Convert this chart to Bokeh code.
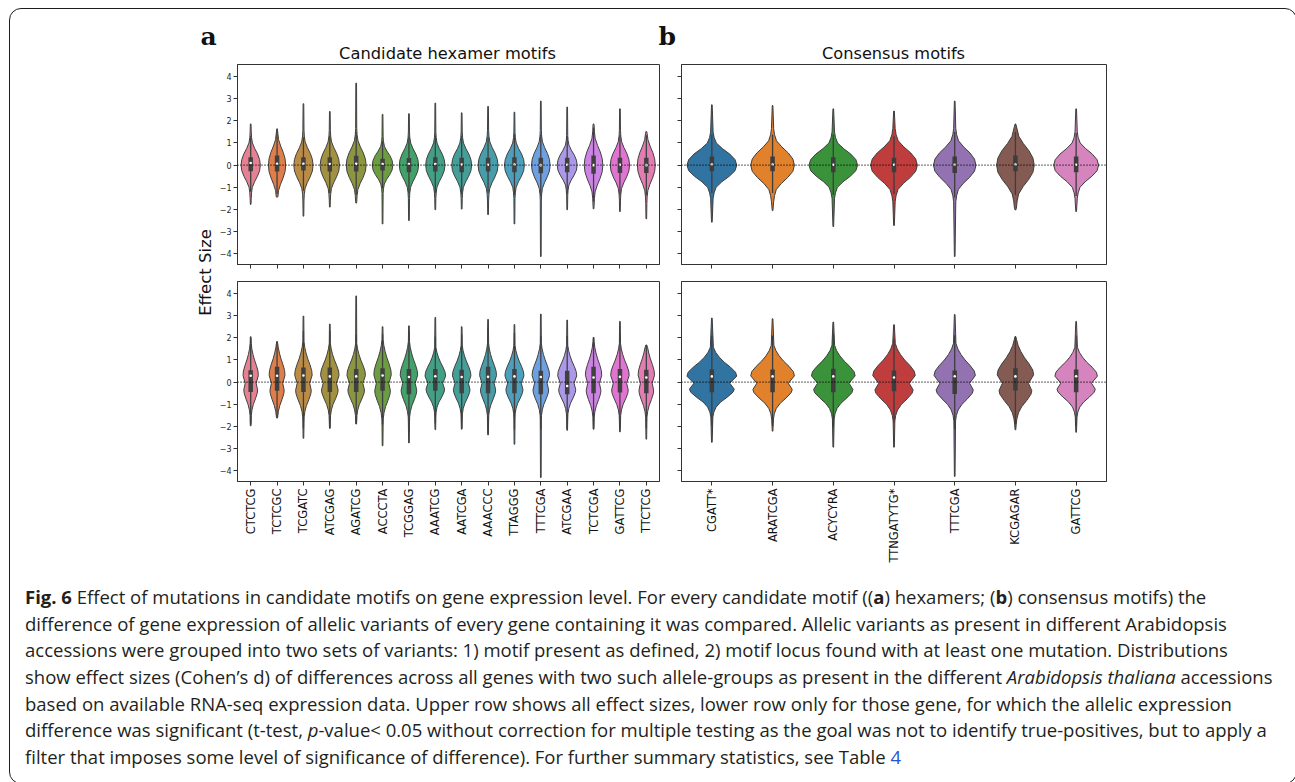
import math
import colorsys

from bokeh.embed import file_html
from bokeh.layouts import column, row
from bokeh.models import Div, FixedTicker, Label, Range1d, Span
from bokeh.plotting import figure
from bokeh.resources import INLINE

# ---------------------------------------------------------------- data
hexamers = ["CTCTCG", "TCTCGC", "TCGATC", "ATCGAG", "AGATCG", "ACCCTA", "TCGGAG", "AAATCG",
            "AATCGA", "AAACCC", "TTAGGG", "TTTCGA", "ATCGAA", "TCTCGA", "GATTCG", "TTCTCG"]
consensus = ["CGATT*", "ARATCGA", "ACYCYRA", "TTNGATYTG*", "TTTCGA", "KCGAGAR", "GATTCG"]

y_ticks = [-4, -3, -2, -1, 0, 1, 2, 3, 4]

# hexamers, all effect sizes
hex_all_max = [1.86, 1.64, 2.77, 2.42, 3.70, 2.29, 2.32, 2.80, 2.36, 2.65, 2.39, 2.89, 2.62, 1.86, 2.54, 1.52]
hex_all_min = [-1.77, -1.44, -2.30, -1.89, -1.71, -2.65, -2.50, -2.01, -1.98, -2.23, -2.65, -4.12, -2.01, -1.97, -2.09, -2.42]
hex_all_q1 = [-0.27, -0.29, -0.24, -0.29, -0.29, -0.24, -0.32, -0.29, -0.32, -0.29, -0.32, -0.36, -0.32, -0.39, -0.35, -0.35]
hex_all_med = [0.10, 0.06, 0.06, 0.05, 0.06, 0.05, 0.05, 0.05, 0.03, 0.02, 0.03, 0.00, 0.02, 0.00, 0.02, 0.00]
hex_all_q3 = [0.36, 0.44, 0.36, 0.36, 0.42, 0.29, 0.32, 0.36, 0.33, 0.33, 0.36, 0.33, 0.33, 0.44, 0.33, 0.33]
hex_all_wlo = [-1.20, -1.30, -1.15, -1.25, -1.35, -1.05, -1.27, -1.25, -1.29, -1.23, -1.34, -1.39, -1.29, -1.64, -1.37, -1.37]
hex_all_whi = [1.30, 1.54, 1.26, 1.33, 1.48, 1.09, 1.28, 1.33, 1.30, 1.26, 1.38, 1.37, 1.30, 1.69, 1.35, 1.35]
hex_all_width = [0.365, 0.327, 0.365, 0.365, 0.377, 0.39, 0.365, 0.365, 0.377, 0.377, 0.377, 0.352, 0.377, 0.352, 0.365, 0.34]
hex_all_spread = [1.0, 1.15, 1.05, 1.05, 1.1, 0.85, 1.0, 1.0, 1.0, 1.05, 1.0, 1.05, 0.9, 1.2, 1.05, 1.15]

# hexamers, significant differences only
hex_sig_max = [2.05, 1.83, 2.98, 2.62, 3.89, 2.50, 2.54, 2.92, 2.50, 2.83, 2.60, 3.07, 2.80, 2.02, 2.74, 1.68]
hex_sig_min = [-1.97, -1.62, -2.53, -2.08, -1.89, -2.87, -2.74, -2.14, -2.12, -2.38, -2.80, -4.30, -2.17, -2.12, -2.24, -2.57]
hex_sig_q1 = [-0.44, -0.39, -0.44, -0.44, -0.44, -0.39, -0.54, -0.39, -0.50, -0.50, -0.50, -0.54, -0.54, -0.50, -0.47, -0.50]
hex_sig_med = [0.29, 0.29, 0.30, 0.26, 0.26, 0.30, 0.23, 0.27, 0.23, 0.24, 0.26, 0.23, -0.17, 0.21, 0.24, 0.21]
hex_sig_q3 = [0.54, 0.69, 0.66, 0.66, 0.59, 0.63, 0.59, 0.59, 0.56, 0.69, 0.59, 0.51, 0.51, 0.69, 0.59, 0.56]
hex_sig_wlo = [-1.91, -1.62, -2.09, -2.08, -1.89, -1.92, -2.24, -1.86, -2.09, -2.29, -2.14, -2.12, -2.12, -2.12, -2.06, -2.09]
hex_sig_whi = [2.01, 1.83, 2.31, 2.31, 2.14, 2.16, 2.29, 2.06, 2.15, 2.48, 2.23, 2.08, 2.08, 2.02, 2.18, 1.68]
hex_sig_width = [0.29, 0.30, 0.33, 0.35, 0.35, 0.33, 0.33, 0.39, 0.35, 0.32, 0.36, 0.33, 0.36, 0.31, 0.35, 0.31]
hex_sig_spread = [1.0, 1.05, 1.05, 1.0, 1.0, 1.1, 1.05, 0.9, 0.95, 1.0, 0.95, 1.0, 0.95, 1.05, 1.0, 1.05]

# consensus motifs, all effect sizes
con_all_max = [2.72, 2.69, 2.54, 2.44, 2.89, 1.86, 2.54]
con_all_min = [-2.57, -2.05, -2.77, -2.72, -4.12, -2.02, -2.09]
con_all_q1 = [-0.27, -0.27, -0.32, -0.32, -0.35, -0.27, -0.32]
con_all_med = [0.03, 0.03, 0.02, 0.02, 0.02, 0.03, 0.02]
con_all_q3 = [0.39, 0.39, 0.36, 0.33, 0.39, 0.44, 0.39]
con_all_wlo = [-1.26, -1.26, -1.34, -1.30, -1.46, -1.34, -1.39]
con_all_whi = [1.38, 1.38, 1.38, 1.30, 1.50, 1.50, 1.45]
con_all_width = [0.41, 0.36, 0.40, 0.385, 0.35, 0.31, 0.37]
con_all_spread = [1.0, 1.1, 1.0, 1.1, 1.1, 1.3, 1.0]

# consensus motifs, significant differences only
con_sig_max = [2.89, 2.86, 2.71, 2.59, 3.05, 2.06, 2.74]
con_sig_min = [-2.71, -2.21, -2.93, -2.93, -4.25, -2.15, -2.26]
con_sig_q1 = [-0.45, -0.45, -0.45, -0.41, -0.53, -0.38, -0.45]
con_sig_med = [0.26, 0.26, 0.26, 0.21, 0.27, 0.26, 0.27]
con_sig_q3 = [0.57, 0.57, 0.60, 0.53, 0.53, 0.63, 0.57]
con_sig_wlo = [-1.98, -1.98, -2.03, -1.82, -2.12, -1.90, -1.98]
con_sig_whi = [2.10, 2.10, 2.18, 1.94, 2.12, 2.06, 2.10]
con_sig_width = [0.41, 0.36, 0.36, 0.35, 0.34, 0.30, 0.35]
con_sig_spread = [0.9, 0.95, 0.95, 1.0, 1.0, 1.1, 0.9]

# relative violin half-width at given effect-size levels (density outline)
all_levels = [-1.5, -1.25, -1.0, -0.75, -0.5, -0.25, 0.0, 0.25, 0.5, 0.75, 1.0, 1.25, 1.5]
all_profile = [0.05, 0.09, 0.17, 0.40, 0.70, 0.93, 1.00, 0.93, 0.72, 0.42, 0.18, 0.09, 0.05]
sig_levels = [-1.75, -1.5, -1.25, -1.0, -0.75, -0.5, -0.35, -0.05, 0.3, 0.5, 0.75, 1.0, 1.25, 1.5, 1.75]
sig_profile = [0.04, 0.08, 0.17, 0.35, 0.62, 0.85, 0.90, 0.72, 1.00, 0.95, 0.75, 0.50, 0.30, 0.15, 0.06]

# ---------------------------------------------------------------- colours
_M = [[3.2406, -1.5372, -0.4986], [-0.9689, 1.8758, 0.0415], [0.0557, -0.2040, 1.0570]]


def _max_chroma(L, H):
    hrad = math.radians(H)
    sin_h, cos_h = math.sin(hrad), math.cos(hrad)
    sub1 = (L + 16) ** 3 / 1560896.0
    sub2 = sub1 if sub1 > 0.008856 else L / 903.3
    best = float("inf")
    for m1, m2, m3 in _M:
        top = (0.99915 * m1 + 1.05122 * m2 + 1.14460 * m3) * sub2
        rbottom = 0.86330 * m3 - 0.17266 * m2
        lbottom = 0.12949 * m3 - 0.38848 * m1
        bottom = (rbottom * sin_h + lbottom * cos_h) * sub2
        for t in (0.0, 1.0):
            c = L * (top - 1.05122 * t) / (bottom + 0.17266 * sin_h * t)
            if 0.0 < c < best:
                best = c
    return best


def husl_to_rgb(h, s, l):
    c = _max_chroma(l, h) / 100.0 * s
    u = math.cos(math.radians(h)) * c
    v = math.sin(math.radians(h)) * c
    t = (l + 16.0) / 116.0
    y = t ** 3 if t ** 3 > 0.008856 else l / 903.3
    var_u = u / (13.0 * l) + 0.19784
    var_v = v / (13.0 * l) + 0.46834
    x = -(9.0 * y * var_u) / ((var_u - 4.0) * var_v - var_u * var_v)
    z = (9.0 * y - 15.0 * var_v * y - var_v * x) / (3.0 * var_v)
    out = []
    for r0, r1, r2 in _M:
        ch = r0 * x + r1 * y + r2 * z
        ch = 12.92 * ch if ch <= 0.0031308 else 1.055 * ch ** (1 / 2.4) - 0.055
        out.append(min(max(ch, 0.0), 1.0))
    return out


def desaturate(rgb, prop=0.75):
    h, l, s = colorsys.rgb_to_hls(*rgb)
    return colorsys.hls_to_rgb(h, l, s * prop)


def to_hex(rgb):
    return "#" + "".join(f"{round(c * 255):02x}" for c in rgb)


def from_hex(hx):
    return [int(hx[i:i + 2], 16) / 255 for i in (1, 3, 5)]


hex_rgb = [desaturate(husl_to_rgb(((i / 16 + 0.01) % 1) * 359, 89.1, 64.35)) for i in range(16)]
tab_rgb = [desaturate(from_hex(c)) for c in
           ["#1f77b4", "#ff7f0e", "#2ca02c", "#d62728", "#9467bd", "#8c564b", "#e377c2"]]


def edge_gray(rgbs):
    lum = min(colorsys.rgb_to_hls(*c)[1] for c in rgbs) * 0.6
    return to_hex([lum, lum, lum])


hex_colors = [to_hex(c) for c in hex_rgb]
con_colors = [to_hex(c) for c in tab_rgb]
hex_gray = edge_gray(hex_rgb)
con_gray = edge_gray(tab_rgb)

MINUS = "\u2212"
TICK_FONT = "DejaVu Sans"


def violin_outline(center, lo, hi, hw, spread, levels, profile, tail):
    ys, ws = [lo], [tail * 0.6]
    for lv, pr in zip(levels, profile):
        yv = lv * spread
        if lo < yv < hi:
            ys.append(yv)
            ws.append(max(pr * hw, tail))
    ys.append(hi)
    ws.append(tail * 0.6)
    xs = [center + w for w in ws] + [center - w for w in reversed(ws)]
    return xs, ys + ys[::-1]


def make_panel(names, lo, hi, q1, med, q3, wlo, whi, hw, spread, levels, profile,
               colors, gray, width, height, borders, show_y, show_x):
    n = len(names)
    left, right, top, bottom = borders
    p = figure(width=width, height=height, output_backend="svg", toolbar_location=None,
               x_range=Range1d(-0.5, n - 0.5), y_range=Range1d(-4.48, 4.54),
               min_border_left=left, min_border_right=right,
               min_border_top=top, min_border_bottom=bottom)
    px_per_unit = (width - left - right) / n
    p.grid.visible = False
    p.background_fill_color = "white"
    p.border_fill_color = None
    p.outline_line_color = "#333333"
    p.outline_line_width = 1
    p.outline_line_alpha = 1

    for ax in (p.xaxis[0], p.yaxis[0]):
        ax.axis_line_color = "#333333"
        ax.major_tick_line_color = "#333333"
        ax.major_tick_out = 4
        ax.major_tick_in = 0
        ax.minor_tick_line_color = None
        ax.major_label_text_font = TICK_FONT
        ax.major_label_text_color = "#262626"

    p.yaxis.ticker = FixedTicker(ticks=y_ticks)
    if show_y:
        p.yaxis.major_label_overrides = {t: (f"{MINUS}{-t}" if t < 0 else str(t)) for t in y_ticks}
        p.yaxis.major_label_text_font_size = "8px"
        p.yaxis.major_label_standoff = 2
    else:
        p.yaxis.major_label_overrides = {t: "" for t in y_ticks}
        p.yaxis.major_label_text_font_size = "0px"
        p.yaxis.major_label_standoff = 0

    p.xaxis.ticker = FixedTicker(ticks=list(range(n)))
    if show_x:
        p.xaxis.major_label_overrides = {i: nm for i, nm in enumerate(names)}
        p.xaxis.major_label_orientation = math.pi / 2
        p.xaxis.major_label_text_font_size = "11.5px"
        p.xaxis.major_label_text_color = "#111111"
        p.xaxis.major_label_standoff = 3
    else:
        p.xaxis.major_label_overrides = {i: "" for i in range(n)}
        p.xaxis.major_label_text_font_size = "0px"
        p.xaxis.major_label_standoff = 0

    tail = 0.55 / px_per_unit
    xs, ys = [], []
    for i in range(n):
        vx, vy = violin_outline(i, lo[i], hi[i], hw[i], spread[i], levels, profile, tail)
        xs.append(vx)
        ys.append(vy)
    p.patches(xs=xs, ys=ys, fill_color=colors, line_color=gray, line_width=1)

    idx = list(range(n))
    p.segment(x0=idx, y0=wlo, x1=idx, y1=whi, line_color=gray, line_width=1.3)
    p.segment(x0=idx, y0=q1, x1=idx, y1=q3, line_color=gray, line_width=4.5, line_cap="butt")
    p.scatter(x=idx, y=med, size=2.6, fill_color="white", line_color=None)

    p.add_layout(Span(location=0, dimension="width", line_color="black",
                      line_width=1.2, line_dash="1 2"))
    return p


LW, RW = 454, 616
TH, BH = 210, 303

tl = make_panel(hexamers, hex_all_min, hex_all_max, hex_all_q1, hex_all_med, hex_all_q3,
                hex_all_wlo, hex_all_whi, hex_all_width, hex_all_spread, all_levels, all_profile,
                hex_colors, hex_gray, LW, TH, (19, 11, 2, 8), True, False)
tr = make_panel(consensus, con_all_min, con_all_max, con_all_q1, con_all_med, con_all_q3,
                con_all_wlo, con_all_whi, con_all_width, con_all_spread, all_levels, all_profile,
                con_colors, con_gray, RW, TH, (11, 180, 2, 8), False, False)
bl = make_panel(hexamers, hex_sig_min, hex_sig_max, hex_sig_q1, hex_sig_med, hex_sig_q3,
                hex_sig_wlo, hex_sig_whi, hex_sig_width, hex_sig_spread, sig_levels, sig_profile,
                hex_colors, hex_gray, LW, BH, (19, 11, 9, 94), True, True)
br = make_panel(consensus, con_sig_min, con_sig_max, con_sig_q1, con_sig_med, con_sig_q3,
                con_sig_wlo, con_sig_whi, con_sig_width, con_sig_spread, sig_levels, sig_profile,
                con_colors, con_gray, RW, BH, (11, 180, 9, 94), False, True)


def blank(width, height):
    f = figure(width=width, height=height, output_backend="svg", toolbar_location=None,
               x_range=Range1d(0, width), y_range=Range1d(height, 0),
               x_axis_location=None, y_axis_location=None, min_border=0)
    f.grid.visible = False
    f.outline_line_color = None
    f.border_fill_color = None
    f.background_fill_color = None
    return f


# panel letters and titles
head = blank(1276, 53)
for txt, x in (("a", 190), ("b", 648)):
    head.add_layout(Label(x=x, y=27, text=txt, text_font="DejaVu Serif", text_font_style="bold",
                          text_font_size="25px", text_color="#111111",
                          text_align="left", text_baseline="middle"))
for txt, x, size in (("Candidate hexamer motifs", 437, "16.3px"), ("Consensus motifs", 883, "16.2px")):
    head.add_layout(Label(x=x, y=43.5, text=txt, text_font="DejaVu Sans", text_font_size=size,
                          text_color="#111111", text_align="center", text_baseline="middle"))

side = blank(206, 513)
side.add_layout(Label(x=195, y=210, text="Effect Size", angle=math.pi / 2,
                      text_font="DejaVu Sans", text_font_size="16.5px", text_color="#111111",
                      text_align="center", text_baseline="middle"))

grid = column(row(tl, tr, spacing=0), row(bl, br, spacing=0), spacing=0)
middle = row(side, grid, spacing=0)

caption_html = (
    '<div style="padding:4px 0 0 10px; font-family:\'Open Sans\'; font-size:18.5px; line-height:26.67px;'
    ' color:#231f20; white-space:nowrap;">'
    "<b>Fig. 6</b> Effect of mutations in candidate motifs on gene expression level. For every candidate "
    "motif ((<b>a</b>) hexamers; (<b>b</b>) consensus motifs) the<br>"
    "difference of gene expression of allelic variants of every gene containing it was compared. "
    "Allelic variants as present in different Arabidopsis<br>"
    "accessions were grouped into two sets of variants: 1) motif present as defined, 2) motif locus "
    "found with at least one mutation. Distributions<br>"
    "show effect sizes (Cohen\u2019s d) of differences across all genes with two such allele-groups as "
    "present in the different <i>Arabidopsis thaliana</i> accessions<br>"
    "based on available RNA-seq expression data. Upper row shows all effect sizes, lower row only for "
    "those gene, for which the allelic expression<br>"
    "difference was significant (t-test, <i>p</i>-value&lt; 0.05 without correction for multiple "
    "testing as the goal was not to identify true-positives, but to apply a<br>"
    "filter that imposes some level of significance of difference). For further summary statistics, "
    'see Table <span style="color:#2a52d4">4</span>'
    "</div>"
)
caption = Div(text=caption_html, width=1276, height=198)

page = column(head, middle, caption, spacing=0, margin=(8, 0, 0, 9),
              styles={"border": "1.5px solid #1e1e1e", "border-radius": "12px"})

open("out.html", "w").write(file_html(page, INLINE))
